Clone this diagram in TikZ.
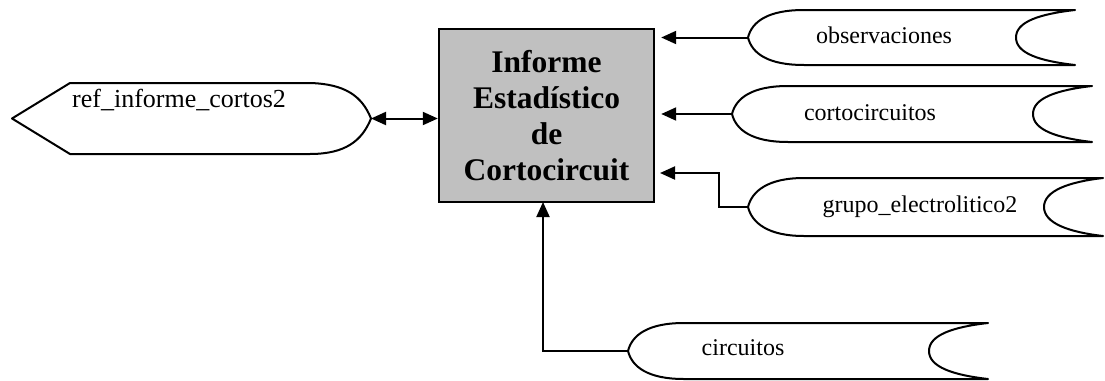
\documentclass[tikz,border=0pt]{standalone}
\usepackage{fontspec}
\setmainfont{Liberation Serif}
\usetikzlibrary{arrows.meta}
\definecolor{boxgray}{HTML}{C0C0C0}
\tikzset{
  shapeline/.style={line width=2pt, line join=round},
  conn/.style={line width=2pt},
  tip/.style={-{Triangle[length=15pt,width=13pt]}},
  twotips/.style={{Triangle[length=15pt,width=13pt]}-{Triangle[length=15pt,width=13pt]}},
  mainbox/.style={draw, line width=2.4pt, fill=boxgray, align=center,
    font=\fontsize{31.5}{36}\selectfont\bfseries, inner sep=0pt},
  lbl/.style={anchor=base, inner sep=0pt, font=\fontsize{24}{28}\selectfont},
}
\newcommand\storeshape[4]{%
  \pgfmathsetmacro\sc{(#3+#4)/2}%
  \draw[shapeline] (#1,\sc) .. controls (#1+4,\sc-16) and (#1+20,#3) .. (#1+56,#3)
    -- (#2,#3) .. controls (#2-35,#3+4) and (#2-59,\sc-16) .. (#2-59,\sc)
    .. controls (#2-59,\sc+16) and (#2-35,#4-4) .. (#2,#4)
    -- (#1+56,#4) .. controls (#1+20,#4) and (#1+4,\sc+16) .. cycle;}
\begin{document}
\begin{tikzpicture}[x=1pt,y=-1pt]
\useasboundingbox (0,0) rectangle (1105,380);
% central box
\node[mainbox, minimum width=215pt, minimum height=173pt] (box) at (546.5,115.5)
  {Informe\\Estadístico\\de\\Cortocircuit};
% left shape
\draw[shapeline] (12,118.5) -- (70,83) -- (310,83)
  .. controls (345,84) and (362,96) .. (371,118.5)
  .. controls (362,141) and (345,154) .. (310,154) -- (70,154) -- cycle;
\coordinate (refT) at (371,118.5);
\node[anchor=base west, inner sep=0pt, font=\fontsize{26}{30}\selectfont] (reftxt) at (72,107) {ref\_informe\_cortos2};
% right shapes
\storeshape{748}{1075}{10}{65}
\coordinate (obsT) at (748,37.5);
\node[lbl] (obstxt) at (884,43) {observaciones};
\storeshape{732}{1092}{86}{142}
\coordinate (corT) at (732,114);
\node[lbl] (cortxt) at (870,120) {cortocircuitos};
\storeshape{748}{1103}{178}{236}
\coordinate (grT) at (748,207);
\node[lbl] (grtxt) at (920,212) {grupo\_electrolitico2};
\storeshape{628}{988}{323}{379}
\coordinate (ciT) at (628,351);
\node[lbl] (citxt) at (743,355) {circuitos};
% connectors
\draw[conn, twotips] (refT) -- (refT -| box.west);
\draw[conn, tip, shorten >=6pt] (obsT) -- (obsT -| box.east);
\draw[conn, tip, shorten >=6pt] (corT) -- (corT -| box.east);
\coordinate (gelbow) at (719,207);
\coordinate (gin) at (654,173);
\draw[conn, tip, shorten >=6pt] (grT) -- (gelbow) |- (gin);
\coordinate (cin) at (543,202);
\draw[conn, tip] (ciT) -| (cin);
\end{tikzpicture}
\end{document}
